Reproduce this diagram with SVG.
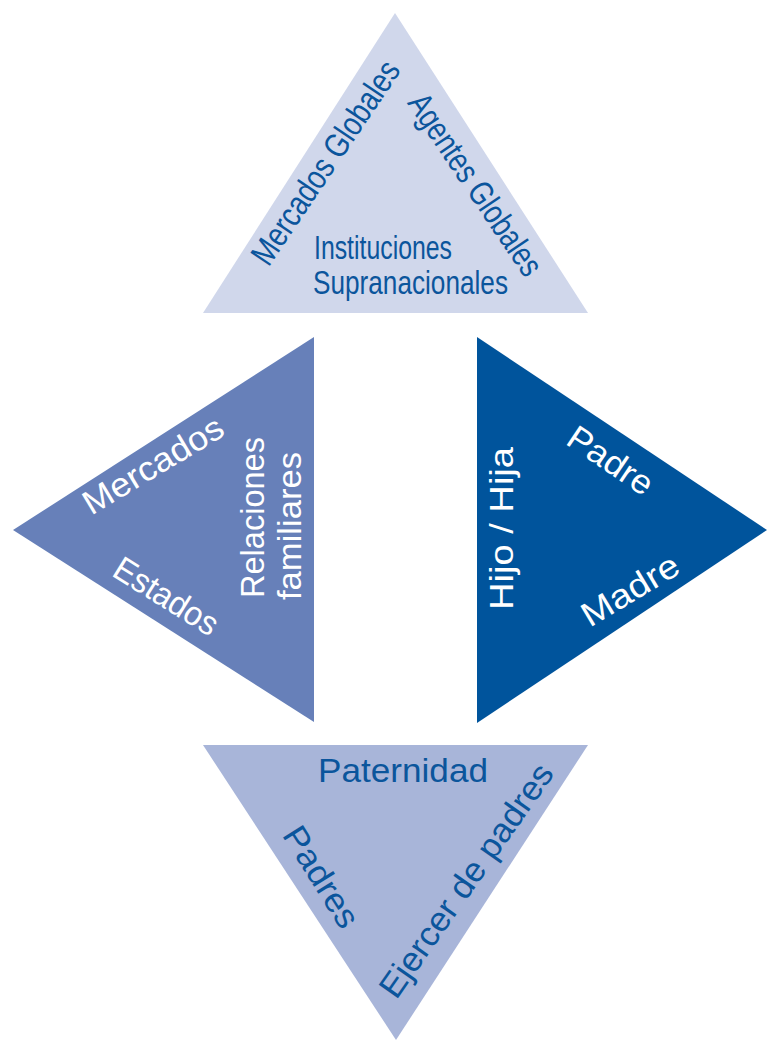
<svg xmlns="http://www.w3.org/2000/svg" width="767" height="1042" viewBox="0 0 767 1042">
  <style>
    .lbl { font-family: "Liberation Sans", Arial, sans-serif; font-size: 34px; }
    .dark { fill: #0b559c; }
    .light { fill: #ffffff; }
    .mid { text-anchor: middle; }
  </style>
  <rect width="767" height="1042" fill="#ffffff"/>

  <!-- Top triangle: global level -->
  <g id="global">
    <polygon points="395,13 588,313 203,313" fill="#d0d7eb"/>
    <text class="lbl dark mid" font-size="35" transform="translate(335,169) rotate(-56)" textLength="238" lengthAdjust="spacingAndGlyphs">Mercados Globales</text>
    <text class="lbl dark mid" font-size="35" transform="translate(466,191) rotate(56)" textLength="212" lengthAdjust="spacingAndGlyphs">Agentes Globales</text>
    <text class="lbl dark" font-size="35" x="314" y="259" textLength="138" lengthAdjust="spacingAndGlyphs">Instituciones</text>
    <text class="lbl dark" font-size="35" x="313" y="294" textLength="195" lengthAdjust="spacingAndGlyphs">Supranacionales</text>
  </g>

  <!-- Left triangle: social level -->
  <g id="social">
    <polygon points="314,337 314,722 13,530" fill="#6780b9"/>
    <text class="lbl light mid" transform="translate(159,475) rotate(-31)" textLength="158" lengthAdjust="spacingAndGlyphs">Mercados</text>
    <text class="lbl light mid" transform="translate(160,606) rotate(32)" textLength="117" lengthAdjust="spacingAndGlyphs">Estados</text>
    <text class="lbl light mid" transform="translate(264,517.5) rotate(-90)" textLength="161" lengthAdjust="spacingAndGlyphs">Relaciones</text>
    <text class="lbl light mid" transform="translate(301,526) rotate(-90)" textLength="148" lengthAdjust="spacingAndGlyphs">familiares</text>
  </g>

  <!-- Right triangle: family level -->
  <g id="family">
    <polygon points="477,337 767,530 477,723" fill="#00549c"/>
    <text class="lbl light mid" transform="translate(513,528.5) rotate(-90)" textLength="163" lengthAdjust="spacingAndGlyphs">Hijo / Hija</text>
    <text class="lbl light mid" transform="translate(604,470) rotate(34)" textLength="96" lengthAdjust="spacingAndGlyphs">Padre</text>
    <text class="lbl light mid" transform="translate(636,600) rotate(-31)" textLength="108" lengthAdjust="spacingAndGlyphs">Madre</text>
  </g>

  <!-- Bottom triangle: parenthood -->
  <g id="parenthood">
    <polygon points="203,745 588,745 396,1040" fill="#a8b5d9"/>
    <text class="lbl dark" x="318" y="782" textLength="170" lengthAdjust="spacingAndGlyphs">Paternidad</text>
    <text class="lbl dark mid" transform="translate(311.5,883) rotate(58)" textLength="113" lengthAdjust="spacingAndGlyphs">Padres</text>
    <text class="lbl dark mid" transform="translate(475.7,887) rotate(-55)" textLength="277" lengthAdjust="spacingAndGlyphs">Ejercer de padres</text>
  </g>

  <!-- no connectors in this figure -->
  <g id="connectors"/>
</svg>
